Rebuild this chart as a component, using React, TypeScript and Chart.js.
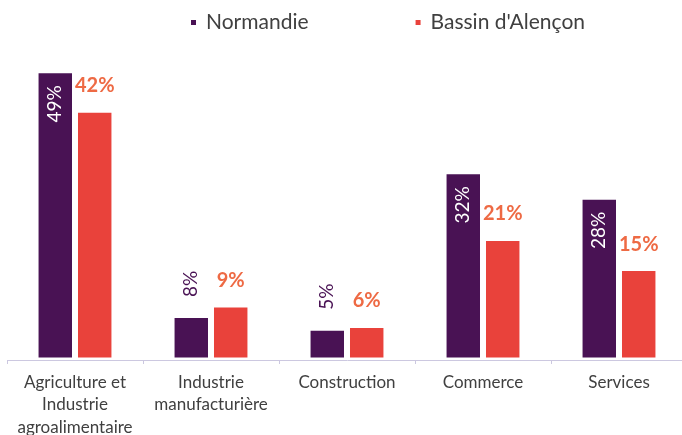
import React, { useEffect, useRef } from "react";
import { Chart, registerables } from "chart.js";

Chart.register(...registerables);

// ---- data ----
const categories: (string | string[])[] = [
  ["Agriculture et", "Industrie", "agroalimentaire"],
  ["Industrie", "manufacturière"],
  "Construction",
  "Commerce",
  "Services",
];
const seriesNames = ["Normandie", "Bassin d'Alençon"];
const normandieValues = [49, 6.8, 4.6, 31.6, 27.2];
const bassinValues = [42.2, 8.6, 5.1, 20.1, 14.9];
const normandieLabels = ["49%", "8%", "5%", "32%", "28%"];
const bassinLabels = ["42%", "9%", "6%", "21%", "15%"];

// ---- styles ----
const NORMANDIE_COLOR = "#491254";
const BASSIN_COLOR = "#E9423B";
const BASSIN_LABEL_COLOR = "#EE6A44";
const TEXT_COLOR = "#404040";
const AXIS_COLOR = "#CCC8E0";
const FONT = "Lato";

const barLabelsPlugin = {
  id: "barLabels",
  afterDatasetsDraw(chart: any) {
    const ctx = chart.ctx;
    const m0 = chart.getDatasetMeta(0);
    m0.data.forEach((bar: any, i: number) => {
      const inside = normandieValues[i] > 15;
      ctx.save();
      ctx.translate(bar.x, inside ? bar.y + 12 : bar.y - 21);
      ctx.rotate(-Math.PI / 2);
      ctx.font = `19px ${FONT}`;
      ctx.fillStyle = inside ? "#ffffff" : NORMANDIE_COLOR;
      ctx.textAlign = inside ? "right" : "left";
      ctx.textBaseline = "middle";
      ctx.fillText(normandieLabels[i], 0, 0);
      ctx.restore();
    });
    const m1 = chart.getDatasetMeta(1);
    m1.data.forEach((bar: any, i: number) => {
      ctx.save();
      ctx.font = `bold 20px ${FONT}`;
      ctx.fillStyle = BASSIN_LABEL_COLOR;
      ctx.textAlign = "center";
      ctx.textBaseline = "alphabetic";
      ctx.fillText(bassinLabels[i], bar.x, bar.y - 20.5);
      ctx.restore();
    });
  },
};

const legendPlugin = {
  id: "customLegend",
  afterDraw(chart: any) {
    const ctx = chart.ctx;
    const colors = [NORMANDIE_COLOR, BASSIN_COLOR];
    let x = 191;
    const baseline = 29;
    ctx.save();
    ctx.font = `21px ${FONT}`;
    ctx.textBaseline = "alphabetic";
    ctx.textAlign = "left";
    seriesNames.forEach((name, i) => {
      ctx.fillStyle = colors[i];
      ctx.fillRect(x, 20, 5, 5);
      ctx.fillStyle = TEXT_COLOR;
      ctx.fillText(name, x + 15, baseline);
      x += 15 + ctx.measureText(name).width + 107;
    });
    ctx.restore();
  },
};

export default function App() {
  const ref = useRef<HTMLCanvasElement | null>(null);

  useEffect(() => {
    if (!ref.current) return;
    const chart = new Chart(ref.current, {
      type: "bar",
      data: {
        labels: categories,
        datasets: [
          {
            label: seriesNames[0],
            data: normandieValues,
            backgroundColor: NORMANDIE_COLOR,
            borderWidth: 0,
            categoryPercentage: 0.58,
            barPercentage: 0.848,
          },
          {
            label: seriesNames[1],
            data: bassinValues,
            backgroundColor: BASSIN_COLOR,
            borderWidth: 0,
            categoryPercentage: 0.58,
            barPercentage: 0.848,
          },
        ],
      },
      options: {
        responsive: false,
        animation: false,
        layout: { padding: { top: 40, left: 7, right: 3, bottom: 0 } },
        plugins: {
          legend: { display: false },
          tooltip: { enabled: false },
        },
        scales: {
          x: {
            grid: {
              display: true,
              drawOnChartArea: false,
              drawTicks: true,
              tickLength: 4,
              color: AXIS_COLOR,
              offset: true,
            },
            border: { display: true, color: AXIS_COLOR, width: 1 },
            ticks: {
              color: TEXT_COLOR,
              font: { family: FONT, size: 17, lineHeight: 1.32 },
              padding: 7,
              maxRotation: 0,
              autoSkip: false,
            },
            afterFit(scale: any) {
              scale.height = 75;
            },
          },
          y: {
            display: false,
            min: -0.43,
            max: 54.74,
          },
        },
      },
      plugins: [barLabelsPlugin, legendPlugin],
    });
    return () => chart.destroy();
  }, []);

  return (
    <div
      style={{
        position: "fixed",
        left: 0,
        top: 0,
        width: 690,
        height: 435,
        background: "#ffffff",
      }}
    >
      <canvas ref={ref} width={690} height={435} style={{ display: "block" }} />
    </div>
  );
}
